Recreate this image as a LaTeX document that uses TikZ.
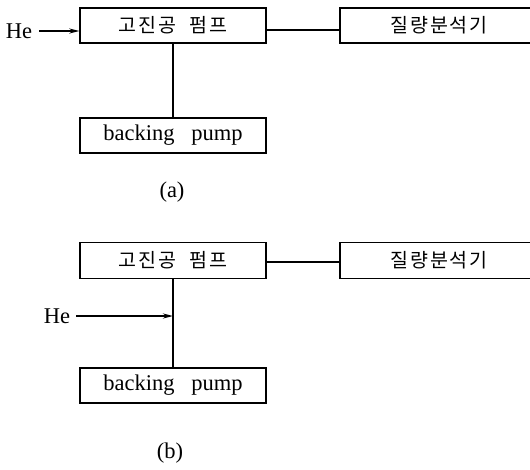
\documentclass[tikz,border=0pt]{standalone}
\usepackage{fontspec}
\setmainfont{Liberation Serif}
\newfontfamily\kr[LetterSpace=10]{Noto Sans CJK KR}
\usepackage{tikz}
\usetikzlibrary{arrows.meta, calc}

\begin{document}
\begin{tikzpicture}[x=1pt, y=-1pt, font=\fontsize{22.5}{26}\selectfont,
    box/.style={draw, line width=1.3pt, minimum height=35pt, inner sep=0pt},
    conn/.style={line width=1.8pt},
    flow/.style={conn, -{Stealth[length=10pt, width=5pt]}}]
  \useasboundingbox (0, 0) rectangle (530, 469);

  % (a)
  \node[box, minimum width=186pt] (hva) at (173, 25.5) {\kr\fontsize{19.5}{22}\selectfont 고진공~~펌프};
  \node[box, minimum width=198pt] (msa) at (439, 25.5) {\kr\fontsize{19.5}{22}\selectfont 질량분석기};
  \node[box, minimum width=186pt] (bpa) at (173, 135.5) {backing\hspace{0.75em}pump};
  \node[inner sep=0pt] (hea) at (19, 31) {He};
  \node (capa) at (172, 192) {(a)};

  \draw[flow] (hea.east) ++(7, 0) -- (hea -| hva.west);
  \draw[conn] ([yshift=-4.5pt]hva.east) -- ([yshift=-4.5pt]msa.west);
  \draw[conn] (hva.south) -- (bpa.north);

  % (b)
  \node[box, minimum width=186pt, minimum height=36pt] (hvb) at (173, 260.5) {\kr\fontsize{19.5}{22}\selectfont 고진공~~펌프};
  \node[box, minimum width=198pt, minimum height=36pt] (msb) at (439, 260.5) {\kr\fontsize{19.5}{22}\selectfont 질량분석기};
  \node[box, minimum width=186pt] (bpb) at (173, 385.5) {backing\hspace{0.75em}pump};
  \node[inner sep=0pt] (heb) at (57, 316) {He};
  \node (capb) at (170, 453) {(b)};

  \draw[conn] ([yshift=-1.5pt]hvb.east) -- ([yshift=-1.5pt]msb.west);
  \draw[conn] (hvb.south) -- (bpb.north);
  \draw[flow] (heb.east) ++(6, 0) -- (heb -| bpb.north);
\end{tikzpicture}
\end{document}
